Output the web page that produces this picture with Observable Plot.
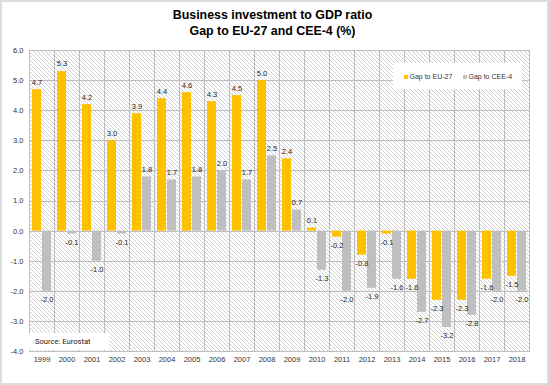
<!DOCTYPE html>
<html>
<head>
<meta charset="utf-8">
<script src="https://cdn.jsdelivr.net/npm/d3@7"></script>
<script src="https://cdn.jsdelivr.net/npm/@observablehq/plot@0.6"></script>
<style>
  html, body { margin: 0; padding: 0; background: #fff; }
  #wrap { position: relative; width: 549px; height: 385px; overflow: hidden; font-family: "Liberation Sans", Arial, sans-serif; }
  #chart svg { position: absolute; left: 0; top: 0; }
  #title { position: absolute; left: 0; top: 7px; width: 545px; text-align: center; font-weight: bold; font-size: 12.4px; line-height: 16px; color: #000; }
  #legend { position: absolute; left: 393px; top: 63px; width: 129px; height: 26px; background: #fff; font-size: 7px; color: #333; }
  #legend .item { position: absolute; top: 8.5px; white-space: nowrap; line-height: 9px; }
  #legend .sw { display: inline-block; width: 4px; height: 4px; margin-right: 1.5px; vertical-align: 0px; }
  #source { position: absolute; left: 29px; top: 333px; width: 80px; height: 17px; background: #fff; font-family: Roboto, sans-serif; font-size: 7.6px; line-height: 17px; color: #222; text-indent: 6px; }
  #border { position: absolute; left: 0; top: 0; width: 549px; height: 385px; border: 2px solid #dcdcdc; box-sizing: border-box; pointer-events: none; background: transparent; }
</style>
</head>
<body>
<div id="wrap">
  <div id="chart"></div>
  <div id="title">Business investment to GDP ratio<br>Gap to EU-27 and CEE-4 (%)</div>
  <div id="legend"></div>
  <div id="source">Source: Eurostat</div>
  <div id="border"></div>
</div>
<script>
const years = ["1999","2000","2001","2002","2003","2004","2005","2006","2007","2008","2009","2010","2011","2012","2013","2014","2015","2016","2017","2018"];
const gapEU27 = [4.7, 5.3, 4.2, 3.0, 3.9, 4.4, 4.6, 4.3, 4.5, 5.0, 2.4, 0.1, -0.2, -0.8, -0.1, -1.6, -2.3, -2.3, -1.6, -1.5];
const gapCEE4 = [-2.0, -0.1, -1.0, -0.1, 1.8, 1.7, 1.8, 2.0, 1.7, 2.5, 0.7, -1.3, -2.0, -1.9, -1.6, -2.7, -3.2, -2.8, -2.0, -2.0];
const seriesNames = ["Gap to EU-27", "Gap to CEE-4"];
const seriesColors = ["#FFC000", "#BFBFBF"];
const yTicks = [-4, -3, -2, -1, 0, 1, 2, 3, 4, 5, 6];

const data = [];
years.forEach((y, i) => {
  data.push({year: y, series: seriesNames[0], value: gapEU27[i]});
  data.push({year: y, series: seriesNames[1], value: gapCEE4[i]});
});
const pos = data.filter(d => d.value >= 0);
const neg = data.filter(d => d.value < 0);
const fmt = v => v.toFixed(1);
const cells = years.map(y => ({year: y, lo: yTicks[0], hi: yTicks[yTicks.length - 1]}));
const gridRows = [];
years.forEach(y => yTicks.forEach(v => gridRows.push({year: y, v})));

const chart = Plot.plot({
  width: 549,
  height: 385,
  marginTop: 50,
  marginBottom: 34,
  marginLeft: 23,
  marginRight: 14,
  style: {fontFamily: "Liberation Sans, Arial, sans-serif", fontSize: "7.5px", color: "#333"},
  fx: {domain: years, padding: 0, label: null, tickSize: 0, tickPadding: 5},
  x: {domain: seriesNames, paddingInner: 0.09, paddingOuter: 0.21, axis: null},
  y: {domain: [-4, 6], ticks: yTicks, tickFormat: fmt, label: null, tickSize: 0, tickPadding: 6},
  color: {domain: seriesNames, range: seriesColors},
  marks: [
    Plot.rect(cells, {fx: "year", y1: "lo", y2: "hi", fill: "url(#hatch)"}),
    Plot.ruleY(gridRows, {fx: "year", y: "v", stroke: "#bdbdbd", strokeWidth: 1, shapeRendering: "crispEdges"}),
    Plot.rect(cells, {fx: "year", y1: "lo", y2: "hi", fill: "none", stroke: "#bdbdbd", strokeWidth: 1, shapeRendering: "crispEdges"}),
    Plot.barY(data, {fx: "year", x: "series", y: "value", fill: "series"}),
    Plot.text(pos, {fx: "year", x: "series", y: "value", text: d => fmt(d.value), dy: -7.5, fill: "#262626", fontSize: 7.5}),
    Plot.text(neg, {fx: "year", x: "series", y: "value", text: d => fmt(d.value), dy: 8.5, fill: "#262626", fontSize: 7.5})
  ]
});

// hatched plot background pattern
const ns = "http://www.w3.org/2000/svg";
const defs = document.createElementNS(ns, "defs");
const pat = document.createElementNS(ns, "pattern");
pat.setAttribute("id", "hatch");
pat.setAttribute("patternUnits", "userSpaceOnUse");
pat.setAttribute("width", "4");
pat.setAttribute("height", "4");
const bg = document.createElementNS(ns, "rect");
bg.setAttribute("width", "4"); bg.setAttribute("height", "4"); bg.setAttribute("fill", "#ffffff");
const ln = document.createElementNS(ns, "path");
ln.setAttribute("d", "M0,0 L4,4 M-1,3 L1,5 M3,-1 L5,1");
ln.setAttribute("stroke", "#d2d2d2");
ln.setAttribute("stroke-width", "1");
pat.appendChild(bg); pat.appendChild(ln); defs.appendChild(pat);
chart.insertBefore(defs, chart.firstChild);
document.getElementById("chart").appendChild(chart);

// legend
const legend = document.getElementById("legend");
const lefts = [11, 70];
seriesNames.forEach((name, i) => {
  const it = document.createElement("div");
  it.className = "item";
  it.style.left = lefts[i] + "px";
  it.innerHTML = '<span class="sw" style="background:' + seriesColors[i] + '"></span>' + name;
  legend.appendChild(it);
});
</script>
</body>
</html>
